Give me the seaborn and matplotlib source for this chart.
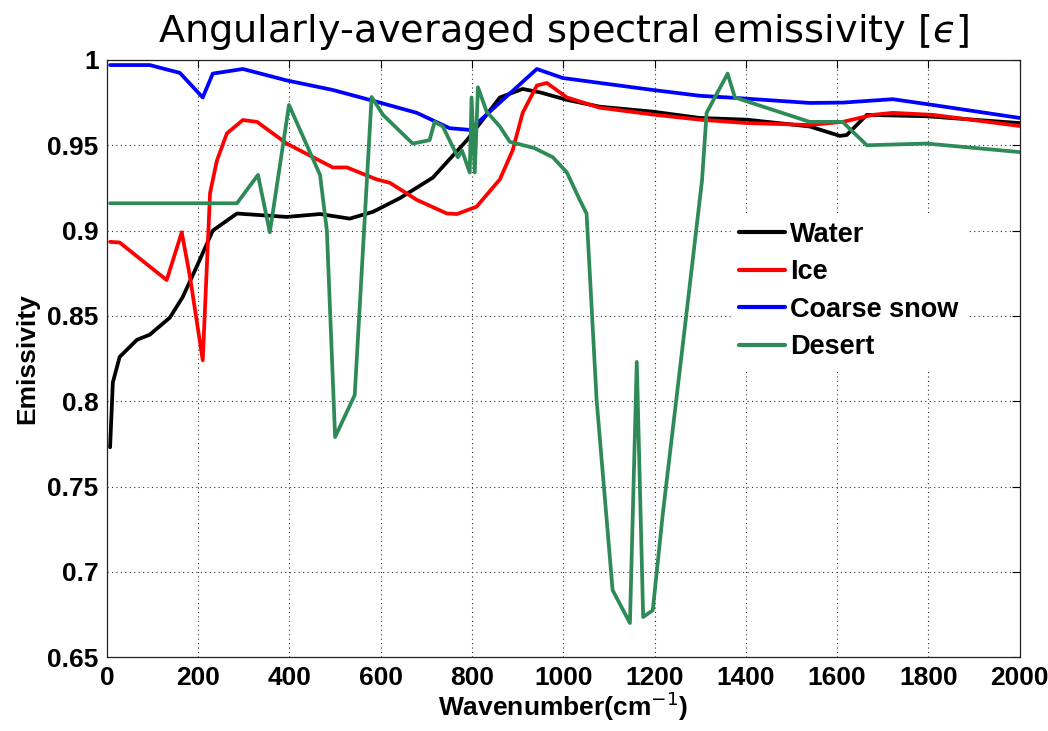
import numpy as np
import pandas as pd
import matplotlib
matplotlib.use("Agg")
import matplotlib.pyplot as plt
import seaborn as sns

# Wavenumber (cm^-1) and emissivity for each surface type
water_x = [7, 13, 28, 66, 94, 138, 166, 197, 232, 285, 394, 467, 532, 583, 642,
           714, 789, 861, 911, 949, 1008, 1080, 1196, 1299, 1402, 1540, 1606,
           1621, 1665, 1796, 2000]
water_y = [0.773, 0.811, 0.826, 0.836, 0.839, 0.849, 0.861, 0.879, 0.900, 0.910,
           0.908, 0.9097, 0.907, 0.911, 0.919, 0.931, 0.953, 0.978, 0.983, 0.981,
           0.9766, 0.9726, 0.9697, 0.966, 0.965, 0.961, 0.9555, 0.956, 0.9678,
           0.967, 0.963]

ice_x = [7, 28, 131, 164, 182, 210, 226, 241, 263, 298, 329, 394, 495, 526, 591,
         620, 679, 745, 767, 810, 861, 889, 911, 942, 964, 1008, 1080, 1196,
         1299, 1402, 1540, 1612, 1678, 1722, 1810, 2000]
ice_y = [0.8934, 0.893, 0.871, 0.899, 0.873, 0.824, 0.922, 0.941, 0.957, 0.9648,
         0.9637, 0.951, 0.937, 0.937, 0.930, 0.928, 0.918, 0.910, 0.9097, 0.914,
         0.930, 0.947, 0.969, 0.985, 0.9865, 0.978, 0.972, 0.968, 0.965, 0.963,
         0.9619, 0.9637, 0.9678, 0.969, 0.9678, 0.9613]

snow_x = [7, 94, 160, 210, 232, 298, 394, 495, 598, 679, 751, 795, 942, 999,
          1196, 1299, 1380, 1540, 1612, 1722, 1810, 2000]
snow_y = [0.997, 0.997, 0.9924, 0.978, 0.992, 0.9947, 0.988, 0.9824, 0.975,
          0.969, 0.960, 0.959, 0.9947, 0.9894, 0.9824, 0.979, 0.9777, 0.9748,
          0.975, 0.977, 0.9736, 0.966]

desert_x = [7, 285, 331, 357, 399, 467, 482, 500, 543, 580, 605, 670, 707, 718,
            736, 769, 778, 795, 799, 806, 813, 832, 861, 883, 936, 977, 1008,
            1036, 1051, 1073, 1108, 1146, 1161, 1175, 1196, 1218, 1270, 1304,
            1314, 1360, 1376, 1540, 1612, 1665, 1796, 2000]
desert_y = [0.916, 0.916, 0.9326, 0.899, 0.9736, 0.9326, 0.90, 0.779, 0.8036,
            0.9783, 0.9678, 0.951, 0.953, 0.9637, 0.961, 0.943, 0.947, 0.934,
            0.978, 0.934, 0.984, 0.9697, 0.961, 0.952, 0.9484, 0.943, 0.934,
            0.918, 0.910, 0.8007, 0.6893, 0.670, 0.823, 0.6735, 0.6775, 0.734,
            0.8517, 0.9296, 0.969, 0.992, 0.978, 0.9637, 0.9637, 0.950, 0.951,
            0.946]

surfaces = ["Water", "Ice", "Coarse snow", "Desert"]
x_ticks = [0, 200, 400, 600, 800, 1000, 1200, 1400, 1600, 1800, 2000]
y_ticks = [0.65, 0.7, 0.75, 0.8, 0.85, 0.9, 0.95, 1.0]
y_tick_labels = ["0.65", "0.7", "0.75", "0.8", "0.85", "0.9", "0.95", "1"]

frames = []
for name, xs, ys in zip(surfaces, [water_x, ice_x, snow_x, desert_x],
                        [water_y, ice_y, snow_y, desert_y]):
    frames.append(pd.DataFrame({"wavenumber": xs, "emissivity": ys, "surface": name}))
df = pd.concat(frames, ignore_index=True)

sns.set_style("white")
plt.rcParams["font.family"] = ["Liberation Sans", "DejaVu Sans"]
plt.rcParams["text.color"] = "black"
plt.rcParams["axes.labelcolor"] = "black"
plt.rcParams["xtick.color"] = "black"
plt.rcParams["ytick.color"] = "black"

fig = plt.figure(figsize=(10.48, 7.31), dpi=100)
ax = fig.add_axes([0.102, 0.101, 0.871, 0.817])

palette = {"Water": "#000000", "Ice": "#ff0000", "Coarse snow": "#0000ff",
           "Desert": "#2e8b57"}
sns.lineplot(data=df, x="wavenumber", y="emissivity", hue="surface",
             hue_order=surfaces, palette=palette, sort=False, estimator=None,
             linewidth=2.7, ax=ax)

ax.set_xlim(0, 2000)
ax.set_ylim(0.65, 1.0)
ax.set_xticks(x_ticks)
ax.set_yticks(y_ticks)
ax.set_yticklabels(y_tick_labels)
ax.grid(True, linestyle=(0, (1, 3)), color="#333333", linewidth=0.8)
ax.tick_params(direction="in", length=6, width=0.8, top=True, right=True,
               labelsize=19, pad=6)
for lbl in ax.get_xticklabels() + ax.get_yticklabels():
    lbl.set_fontweight("bold")
for sp in ax.spines.values():
    sp.set_visible(True)
    sp.set_color("#222222")
    sp.set_linewidth(0.9)

ax.set_xlabel("Wavenumber(cm$^{-1}$)", fontsize=19, fontweight="bold", labelpad=0)
ax.set_ylabel("Emissivity", fontsize=19, fontweight="bold", labelpad=6)
ax.set_title("Angularly-averaged spectral emissivity [$\u03f5$]",
             fontsize=27.5, family="DejaVu Sans", pad=13)

leg = ax.legend(loc="upper left", bbox_to_anchor=(0.669, 0.765), frameon=True,
                fancybox=False, framealpha=1, edgecolor="white",
                prop={"weight": "bold", "size": 19.5}, handlelength=1.7,
                handletextpad=0.18, labelspacing=0.42, borderpad=0.3)
for line in leg.get_lines():
    line.set_linewidth(3)

fig.savefig("out.png", dpi=100)
